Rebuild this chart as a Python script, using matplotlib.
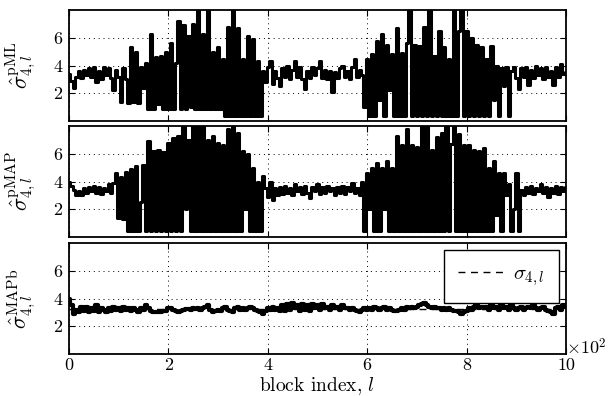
import numpy as np
import matplotlib
matplotlib.use("Agg")
import matplotlib.pyplot as plt
from matplotlib.ticker import FuncFormatter

plt.rcParams['font.family'] = 'serif'
plt.rcParams['font.serif'] = ['cmr10', 'DejaVu Serif']
plt.rcParams['mathtext.fontset'] = 'cm'
plt.rcParams['axes.unicode_minus'] = False
plt.rcParams['axes.formatter.use_mathtext'] = True

# block index, every 5 blocks
blocks = np.arange(0, 1001, 5)

# sigma_hat pML (values read at l = 0, 5, ..., 1000)
sig_pml = [
    3.4, 2.9, 2.4, 3.2, 3.6, 3.1, 3.7, 3.3, 3.8, 3.2,
    3.9, 2.8, 3.6, 3.0, 3.9, 3.3, 3.8, 3.1, 2.2, 3.7,
    3.2, 1.4, 3.8, 3.0, 1.3, 5.3, 1.4, 5.0, 1.3, 3.9,
    2.4, 4.2, 0.9, 6.3, 0.9, 4.6, 1.2, 4.7, 0.9, 5.0,
    0.9, 5.6, 0.9, 4.2, 7.2, 0.9, 6.9, 0.9, 6.1, 1.0,
    7.0, 0.9, 8.5, 0.9, 6.3, 0.9, 8.5, 0.9, 5.0, 0.9,
    5.3, 0.9, 4.5, 0.35, 6.8, 0.35, 8.5, 0.35, 6.7, 0.35,
    4.5, 0.35, 6.1, 0.35, 5.9, 0.35, 4.3, 0.35, 3.6, 2.8,
    3.9, 4.3, 2.7, 3.6, 3.1, 2.5, 3.8, 3.2, 4.0, 3.0,
    3.7, 4.3, 3.2, 3.9, 3.0, 2.3, 3.6, 3.1, 3.9, 3.3,
    3.8, 4.3, 3.1, 3.7, 3.0, 3.6, 2.1, 3.5, 3.1, 3.8,
    4.0, 3.2, 3.6, 3.0, 3.9, 4.5, 3.2, 3.7, 3.3, 1.0,
    4.5, 0.35, 4.8, 0.35, 5.8, 1.5, 6.3, 0.35, 5.5, 2.2,
    4.8, 0.35, 6.7, 0.35, 4.9, 0.35, 5.6, 8.5, 0.35, 5.5,
    0.35, 5.4, 0.35, 6.8, 0.35, 8.5, 0.35, 4.7, 0.35, 6.5,
    0.35, 5.3, 0.35, 4.5, 0.35, 8.5, 0.35, 6.5, 8.5, 0.35,
    6.5, 0.35, 6.0, 0.35, 5.5, 0.35, 5.3, 0.35, 4.5, 0.35,
    5.4, 1.5, 4.0, 0.35, 3.8, 2.5, 3.9, 0.35, 3.6, 3.9,
    3.1, 2.3, 3.8, 3.2, 3.9, 2.6, 3.7, 3.1, 4.0, 3.3,
    3.8, 3.0, 3.9, 3.2, 3.6, 2.6, 3.9, 3.2, 4.1, 3.4,
    3.5,
]

# sigma_hat pMAP
sig_pmap = [
    4.0, 3.7, 3.4, 3.0, 3.3, 3.0, 3.5, 3.2, 3.6, 3.3,
    3.7, 3.2, 3.6, 3.1, 3.5, 3.3, 3.8, 3.2, 3.9, 4.6,
    1.4, 4.3, 1.3, 4.7, 0.4, 4.9, 0.4, 5.1, 0.4, 2.5,
    5.2, 0.4, 6.9, 0.4, 6.2, 0.4, 6.3, 0.4, 6.1, 0.4,
    6.8, 0.4, 7.1, 0.4, 7.3, 0.4, 8.5, 2.0, 7.0, 0.4,
    8.5, 0.4, 8.5, 0.4, 8.5, 0.4, 7.0, 0.4, 7.3, 0.4,
    6.8, 0.4, 6.6, 0.4, 7.8, 0.4, 8.5, 0.4, 7.5, 0.4,
    6.2, 2.0, 6.0, 0.4, 5.0, 0.4, 4.0, 0.4, 4.4, 3.5,
    2.9, 4.0, 2.7, 3.5, 3.0, 3.6, 3.1, 3.7, 3.2, 3.5,
    3.0, 3.8, 3.3, 3.6, 3.1, 3.7, 3.2, 2.8, 3.6, 3.3,
    3.8, 3.1, 3.6, 3.2, 3.7, 3.3, 3.5, 3.0, 3.6, 3.2,
    3.7, 3.1, 3.6, 3.3, 3.9, 3.2, 3.5, 3.0, 4.0, 0.4,
    4.6, 2.0, 5.0, 0.4, 5.3, 0.4, 5.0, 2.0, 5.5, 0.4,
    5.0, 0.4, 7.3, 0.4, 6.6, 0.4, 7.8, 0.4, 6.6, 0.4,
    6.5, 0.4, 8.5, 0.4, 8.5, 0.4, 6.3, 0.4, 7.2, 0.4,
    7.5, 0.4, 8.5, 0.4, 6.7, 8.5, 0.4, 7.4, 0.4, 6.6,
    0.4, 6.6, 0.4, 6.3, 0.4, 6.2, 0.4, 6.4, 0.4, 5.0,
    0.4, 5.5, 1.6, 4.6, 0.4, 4.6, 3.0, 3.8, 0.4, 2.0,
    4.6, 0.4, 3.4, 3.0, 3.6, 3.2, 3.7, 3.1, 3.5, 3.3,
    3.8, 3.2, 3.6, 2.9, 3.5, 3.2, 3.7, 3.1, 3.6, 3.3,
    3.6,
]

# sigma_hat MAPb
sig_mapb = [
    4.0, 3.5, 2.9, 3.2, 3.0, 3.4, 3.1, 3.4, 3.0, 3.3,
    3.1, 3.5, 3.0, 3.3, 3.2, 3.0, 3.3, 3.1, 3.4, 3.2,
    3.3, 3.1, 3.4, 3.2, 3.3, 3.1, 3.3, 3.2, 3.0, 3.3,
    3.2, 3.5, 3.3, 3.1, 3.0, 3.0, 3.05, 3.0, 3.1, 3.1,
    3.3, 3.3, 3.2, 3.1, 3.0, 3.1, 3.2, 3.25, 3.25, 3.2,
    3.3, 3.25, 3.3, 3.2, 3.3, 3.4, 3.5, 3.2, 3.0, 3.1,
    3.2, 3.1, 3.3, 3.4, 3.2, 3.1, 3.0, 3.3, 3.4, 3.2,
    3.3, 3.2, 3.3, 3.4, 3.3, 3.2, 3.1, 3.0, 2.9, 3.1,
    3.3, 3.2, 3.4, 3.2, 3.3, 3.1, 3.5, 3.1, 3.6, 3.2,
    3.7, 3.3, 3.5, 3.1, 3.6, 3.2, 3.5, 3.1, 3.6, 3.3,
    3.5, 3.2, 3.6, 3.3, 3.4, 3.2, 3.5, 3.3, 3.4, 3.2,
    3.5, 3.3, 3.3, 3.2, 3.3, 3.2, 3.1, 3.0, 3.2, 3.3,
    3.2, 3.3, 3.2, 3.4, 3.3, 3.2, 3.3, 3.4, 3.2, 3.3,
    3.2, 3.1, 3.1, 3.2, 3.3, 3.2, 3.4, 3.3, 3.4, 3.3,
    3.4, 3.5, 3.6, 3.7, 3.5, 3.4, 3.3, 3.4, 3.3, 3.3,
    3.2, 3.3, 3.2, 3.3, 3.2, 3.1, 3.1, 3.0, 2.9, 3.0,
    3.1, 3.3, 3.2, 3.4, 3.5, 3.3, 3.4, 3.3, 3.4, 3.2,
    3.5, 3.3, 3.4, 3.2, 3.5, 3.3, 3.4, 3.2, 3.5, 3.3,
    3.2, 3.3, 3.4, 3.2, 3.3, 3.4, 3.3, 3.5, 3.3, 3.2,
    3.3, 3.4, 3.2, 3.1, 3.0, 2.9, 3.3, 3.4, 3.2, 3.5,
    3.4,
]

# true sigma (dashed reference, hidden under the estimates)
sig_true_x = [0, 1000]
sig_true = [3.25, 3.25]

series = [sig_pml, sig_pmap, sig_mapb]
names = ['pML', 'pMAP', 'MAPb']
widths = [2.2, 2.2, 3.0]
xticks = [0, 200, 400, 600, 800, 1000]
yticks = [2, 4, 6]

fig = plt.figure(figsize=(6.13, 3.96), dpi=100)
tops = [10, 126, 243]
axes = []
for k in range(3):
    bottom = 1 - (tops[k] + 111) / 396.0
    ax = fig.add_axes([69 / 613.0, bottom, 497 / 613.0, 111 / 396.0])
    axes.append(ax)
    if k == 2:
        ax.plot(sig_true_x, sig_true, 'k', linestyle=(0, (5, 4)), linewidth=1.0,
                label=r'$\sigma_{4,l}$', zorder=1)
    ax.plot(blocks, series[k], 'k-', linewidth=widths[k], drawstyle='steps-mid', zorder=2)
    ax.set_xlim(0, 1000)
    ax.set_ylim(0, 8)
    ax.set_xticks(xticks)
    ax.set_yticks(yticks)
    ax.yaxis.set_major_formatter(FuncFormatter(lambda v, p: '%d' % v))
    ax.xaxis.set_major_formatter(FuncFormatter(lambda v, p: '%d' % (v / 100)))
    ax.grid(True, linestyle=(0, (1, 4)), color='k', linewidth=0.7)
    ax.tick_params(direction='in', top=True, right=True, length=4, width=0.8,
                   labelsize=13, pad=5)
    ax.tick_params(axis='x', pad=3)
    for s in ax.spines.values():
        s.set_linewidth(1.3)
    ax.set_ylabel(r'$\hat{\sigma}_{4,l}^{\mathrm{%s}}$' % names[k], fontsize=16)
    ax.yaxis.set_label_coords(-0.062, 0.5)
    if k < 2:
        ax.tick_params(labelbottom=False)

ax3 = axes[2]
ax3.set_xlabel(r'block index, $l$', fontsize=14, labelpad=1)
ax3.text(1.0, 0.06, r'$\times10^{2}$', transform=ax3.transAxes, ha='left', va='center',
         fontsize=13)
leg = ax3.legend(loc='upper right', fontsize=15, fancybox=False, framealpha=1,
                 edgecolor='k', handlelength=2.2, borderaxespad=0.35, borderpad=0.7,
                 handletextpad=0.4)
leg.get_frame().set_linewidth(1.0)

fig.savefig('out.png', dpi=100)
